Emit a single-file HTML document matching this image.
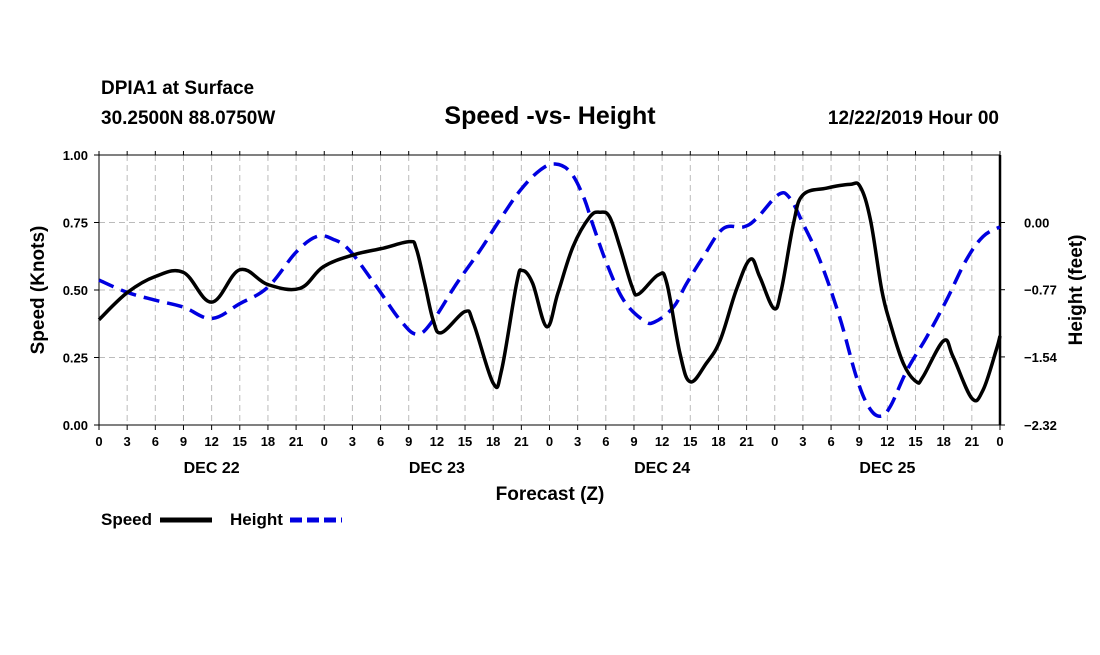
<!DOCTYPE html>
<html><head><meta charset="utf-8"><style>
body{margin:0;background:#fff;width:1100px;height:650px;overflow:hidden;font-family:"Liberation Sans",sans-serif}
svg text{font-family:"Liberation Sans",sans-serif;font-weight:bold;fill:#000}
</style></head><body>
<svg id="chart" width="1100" height="650">
<text x="101" y="94" font-size="19">DPIA1 at Surface</text>
<text x="101" y="124" font-size="19">30.2500N 88.0750W</text>
<text x="550" y="124" font-size="25" text-anchor="middle">Speed -vs- Height</text>
<text x="999" y="124" font-size="19" text-anchor="end">12/22/2019 Hour 00</text>
<g id="grid"></g><g id="axes"></g><g id="series"></g>
<text x="550" y="500" font-size="19" text-anchor="middle">Forecast (Z)</text>
<text transform="translate(44,290) rotate(-90)" font-size="19" text-anchor="middle">Speed (Knots)</text>
<text transform="translate(1082,290) rotate(-90)" font-size="19" text-anchor="middle">Height (feet)</text>
<g><text x="101" y="525" font-size="17">Speed</text><line x1="160" y1="520" x2="212" y2="520" stroke="#000" stroke-width="5"/></g>
<g><text x="230" y="525" font-size="17">Height</text><line x1="290" y1="520" x2="342" y2="520" stroke="#0000e0" stroke-width="5" stroke-dasharray="12,5"/></g>
</svg>
<script>
const tickHours=[];for(let i=0;i<=32;i++)tickHours.push(i*3);
const hourLabels=["0","3","6","9","12","15","18","21"];
const dayLabels=["DEC 22","DEC 23","DEC 24","DEC 25"];
const speedTicks=[0,0.25,0.5,0.75,1.0];
const heightTicks=[-2.32,-1.54,-0.77,0.00];
const speedHours=[0,3,6,9,12,15,18,21.4,23.9,27.1,30.3,33.1,33.8,34.7,35.6,36.5,39,39.9,42,42.9,44.5,45.1,46.2,47.7,48.9,50.5,52.3,53.4,54.4,55.5,56.8,57.5,59.6,60.5,61.9,63,64.7,66.2,67.9,69.4,70.4,71.9,72.7,74,75,77.5,80,81.1,82.2,83.4,84.3,85.7,87.1,87.8,90,91,93,94.2,95.6,96];
const speed=[0.39,0.49,0.55,0.565,0.455,0.575,0.52,0.506,0.586,0.63,0.655,0.679,0.654,0.525,0.389,0.342,0.42,0.377,0.155,0.204,0.525,0.572,0.525,0.364,0.489,0.66,0.771,0.788,0.771,0.66,0.512,0.485,0.556,0.525,0.265,0.16,0.228,0.315,0.5,0.614,0.549,0.432,0.5,0.747,0.852,0.877,0.891,0.883,0.759,0.5,0.377,0.228,0.16,0.179,0.312,0.253,0.099,0.13,0.278,0.33];
const heightHours=[0,3,6,9,12,15,18,21,23.2,24.9,26.7,29.6,32.1,33.9,35.6,38.1,40.6,42.7,44.9,47,48.6,50.2,51.6,52.7,54.1,55.9,58,59.2,61.2,62.6,64.4,66.5,68.7,70.1,72.4,73.6,75,76.8,78.9,80.7,82,83.2,84.3,86.1,88.2,90.3,92.4,94.2,96];
const height=[-0.66,-0.80,-0.89,-0.97,-1.10,-0.93,-0.74,-0.34,-0.16,-0.19,-0.32,-0.74,-1.12,-1.28,-1.12,-0.70,-0.32,0.03,0.37,0.60,0.67,0.58,0.30,-0.05,-0.47,-0.89,-1.12,-1.14,-0.97,-0.70,-0.39,-0.07,-0.05,0.05,0.32,0.28,-0.01,-0.43,-1.08,-1.77,-2.11,-2.22,-2.11,-1.69,-1.31,-0.89,-0.43,-0.16,-0.05];
const X0=99,X1=1000,Y0=425,Y1=155,HMIN=-2.32,HMAX=0.7733;
const xs=h=>X0+h/96*(X1-X0);
const ysL=v=>Y0-v*(Y0-Y1);
const ysR=v=>Y0-(v-HMIN)/(HMAX-HMIN)*(Y0-Y1);
const NS="http://www.w3.org/2000/svg";
function mk(tag,attrs,parent){const e=document.createElementNS(NS,tag);for(const k in attrs)e.setAttribute(k,attrs[k]);parent.appendChild(e);return e;}
const grid=document.getElementById('grid'),axes=document.getElementById('axes'),series=document.getElementById('series');
tickHours.forEach((h,i)=>{
 const x=xs(h);
 if(i>0&&i<32){const g=mk('line',{x1:x,x2:x,y1:Y1,y2:Y0,stroke:'#bbb','stroke-dasharray':'6,4'},grid);
 
 }
 mk('line',{x1:x,x2:x,y1:Y0,y2:Y0+5,stroke:'#000'},axes);
 mk('line',{x1:x,x2:x,y1:Y1,y2:Y1-4,stroke:'#000'},axes);
 const l=mk('text',{x:x,y:Y0+21,'font-size':13,'text-anchor':'middle'},axes);l.textContent=hourLabels[i%8];
 
 
});
dayLabels.forEach((d,i)=>{const t=mk('text',{x:xs(12+24*i),y:Y0+48,'font-size':16,'text-anchor':'middle'},axes);t.textContent=d;
 
 });
speedTicks.forEach(v=>{const y=ysL(v);
 if(v>0&&v<1){const g=mk('line',{x1:X0,x2:X1,y1:y,y2:y,stroke:'#bbb','stroke-dasharray':'6,4'},grid);
 
 }
 mk('line',{x1:X0-5,x2:X0,y1:y,y2:y,stroke:'#000'},axes);
 const t=mk('text',{x:X0-11,y:y+5,'font-size':13,'text-anchor':'end'},axes);t.textContent=v.toFixed(2);
 
 });
heightTicks.forEach(v=>{const y=ysR(v);
 mk('line',{x1:X1,x2:X1+5,y1:y,y2:y,stroke:'#000'},axes);
 const t=mk('text',{x:X1+24,y:y+5,'font-size':13},axes);t.textContent=(v===0?"0.00":v.toFixed(2).replace('-','\u2212'));
 
 });
const frame=mk('rect',{x:X0,y:Y1,width:X1-X0,height:Y0-Y1,fill:'none',stroke:'#000','stroke-width':1},axes);


mk('line',{x1:X1,x2:X1,y1:Y1,y2:Y0,stroke:'#000','stroke-width':2.5},axes);
function smooth(pts){let d=`M${pts[0][0]},${pts[0][1]}`;
 for(let i=0;i<pts.length-1;i++){const p0=pts[Math.max(0,i-1)],p1=pts[i],p2=pts[i+1],p3=pts[Math.min(pts.length-1,i+2)];
 const t=0.18;
 d+=` C${p1[0]+(p2[0]-p0[0])*t},${p1[1]+(p2[1]-p0[1])*t} ${p2[0]-(p3[0]-p1[0])*t},${p2[1]-(p3[1]-p1[1])*t} ${p2[0]},${p2[1]}`;}
 return d;}
const hp=mk('path',{d:smooth(heightHours.map((h,i)=>[xs(h),ysR(height[i])])),fill:'none',stroke:'#0000e0','stroke-width':3.5,'stroke-dasharray':'16,8'},series);


const sp=mk('path',{d:smooth(speedHours.map((h,i)=>[xs(h),ysL(speed[i])])),fill:'none',stroke:'#000','stroke-width':3.5,'stroke-linejoin':'round'},series);


</script>
</body></html>
